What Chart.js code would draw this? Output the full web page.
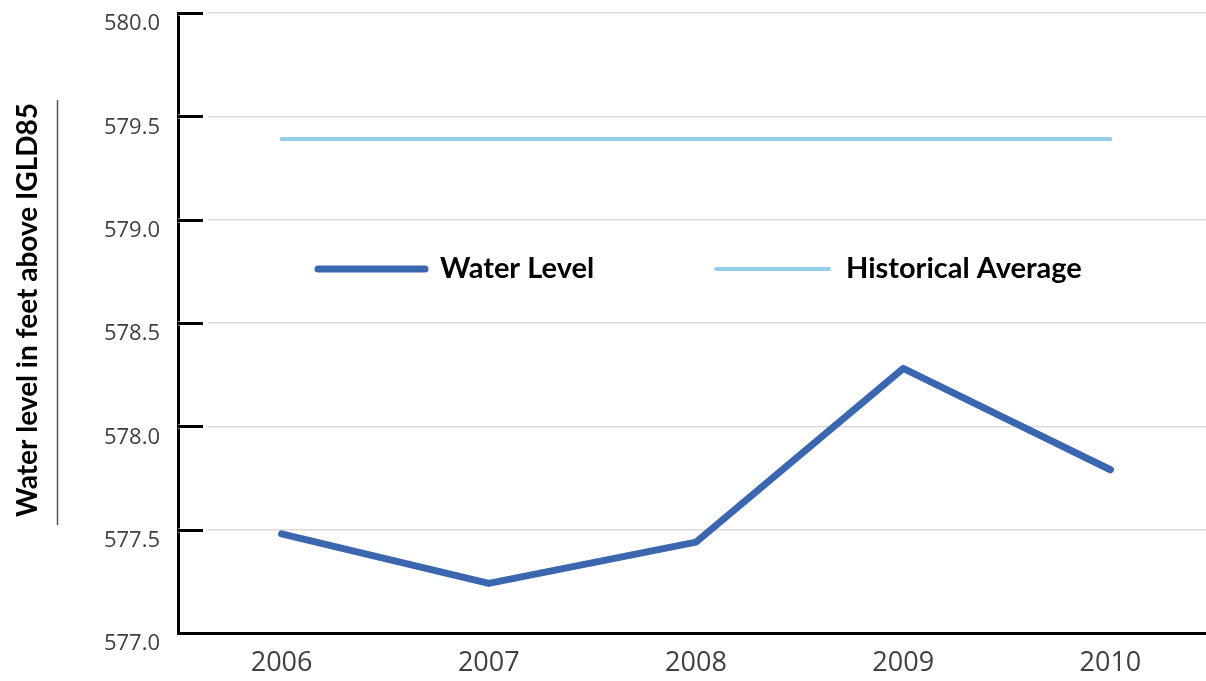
<!DOCTYPE html>
<html>
<head>
<meta charset="utf-8">
<script src="https://cdn.jsdelivr.net/npm/chart.js@4/dist/chart.umd.min.js"></script>
<style>
  html, body { margin: 0; padding: 0; background: #fff; overflow: hidden; }
  #wrap { width: 1214px; height: 681px; position: relative; }
</style>
</head>
<body>
<div id="wrap"><canvas id="myChart"></canvas></div>
<script>
// data
var years = ['2006', '2007', '2008', '2009', '2010'];
var waterLevel = [577.48, 577.24, 577.44, 578.28, 577.79];
var historicalAverage = [579.39, 579.39, 579.39, 579.39, 579.39];
var yTicks = [577.0, 577.5, 578.0, 578.5, 579.0, 579.5, 580.0];
var yTitle = 'Water level in feet above IGLD85';

var blue = '#3b67b1', lightBlue = '#92cdec';

// black tick marks sitting inside the plot, little white gap before the grid line
const innerTicks = {
    id: 'innerTicks',
    beforeDatasetsDraw(chart) {
        const ctx = chart.ctx, y = chart.scales.y, left = chart.chartArea.left;
        ctx.save();
        yTicks.forEach(v => {
            if (v == yTicks[0]) return;
            const py = Math.round(y.getPixelForValue(v)) + 0.5;
            ctx.fillStyle = '#fff';
            ctx.fillRect(left, py - 2, 30, 4);
            ctx.strokeStyle = '#000';
            ctx.lineWidth = 3;
            ctx.beginPath();
            ctx.moveTo(left, py);
            ctx.lineTo(left + 25, py);
            ctx.stroke();
        });
        ctx.restore();
    }
};

// rotated axis title plus the thin rule beside it
const sideTitle = {
    id: 'sideTitle',
    afterDraw(chart) {
        const ctx = chart.ctx;
        ctx.save();
        ctx.translate(28, 310);
        ctx.rotate(-Math.PI / 2);
        ctx.font = 'bold 28px Lato';
        ctx.fillStyle = '#000';
        ctx.textAlign = 'center';
        ctx.textBaseline = 'middle';
        ctx.fillText(yTitle, 0, 0);
        ctx.restore();

        ctx.save();
        ctx.strokeStyle = '#555';
        ctx.lineWidth = 1.5;
        ctx.beginPath();
        ctx.moveTo(57.5, 100);
        ctx.lineTo(57.5, 525);
        ctx.stroke();
        ctx.restore();
    }
};

// legend drawn inside the plot area
const innerLegend = {
    id: 'innerLegend',
    afterDraw(chart) {
        const ctx = chart.ctx;
        const items = [
            { x: 318, w: 107, tx: 440, ds: chart.data.datasets[0] },
            { x: 716, w: 113, tx: 846, ds: chart.data.datasets[1] }
        ];
        const ly = 269;
        ctx.save();
        items.forEach(it => {
            ctx.strokeStyle = it.ds.borderColor;
            ctx.lineWidth = it.ds.borderWidth;
            ctx.lineCap = 'round';
            ctx.beginPath();
            ctx.moveTo(it.x, ly);
            ctx.lineTo(it.x + it.w, ly);
            ctx.stroke();
            ctx.font = 'bold 29px Lato';
            ctx.fillStyle = '#000';
            ctx.textBaseline = 'middle';
            ctx.fillText(it.ds.label, it.tx, ly);
        });
        ctx.restore();
    }
};

const data = {
    labels: years,
    datasets: [{
        label: 'Water Level',
        data: waterLevel,
        borderColor: blue,
        backgroundColor: blue,
        borderWidth: 7,
        borderCapStyle: 'round',
        borderJoinStyle: 'round',
        pointRadius: 0,
        tension: 0
    }, {
        label: 'Historical Average',
        data: historicalAverage,
        borderColor: lightBlue,
        backgroundColor: lightBlue,
        borderWidth: 4,
        borderCapStyle: 'round',
        pointRadius: 0,
        tension: 0
    }]
};

const config = {
    type: 'line',
    data: data,
    options: {
        responsive: true,
        maintainAspectRatio: false,
        animation: false,
        layout: { padding: { top: 13, right: 0, left: 0, bottom: 0 } },
        plugins: {
            legend: { display: false },
            tooltip: { enabled: false }
        },
        scales: {
            x: {
                offset: true,
                grid: { display: false },
                border: { display: true, color: '#000', width: 3 },
                ticks: {
                    color: '#404040',
                    font: { family: 'Open Sans', size: 27 },
                    padding: 6
                },
                afterFit: function (scale) {
                    scale.height = 48;
                    scale.paddingLeft = 0;
                    scale.paddingRight = 0;
                }
            },
            y: {
                min: yTicks[0],
                max: yTicks[yTicks.length - 1],
                grid: { color: '#dadada', lineWidth: 1.5, drawTicks: false },
                border: { display: true, color: '#000', width: 3 },
                ticks: {
                    stepSize: 0.5,
                    color: '#404040',
                    font: { family: 'Open Sans', size: 22 },
                    padding: 18,
                    labelOffset: 11,
                    callback: function (v) { return Number(v).toFixed(1); }
                },
                afterFit: function (scale) {
                    scale.width = 178;
                    scale.paddingTop = 0;
                    scale.paddingBottom = 0;
                }
            }
        }
    },
    plugins: [innerTicks, sideTitle, innerLegend]
};

const myChart = new Chart(document.getElementById('myChart'), config);
</script>
</body>
</html>
